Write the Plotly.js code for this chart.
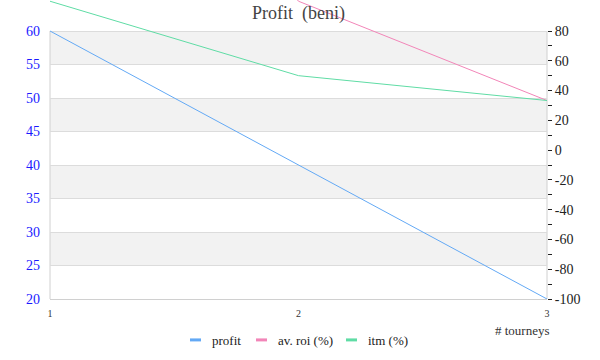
<!DOCTYPE html>
<html>
<head>
<meta charset="utf-8">
<script src="https://cdn.plot.ly/plotly-3.0.1.min.js"></script>
<style>html,body{margin:0;padding:0;background:#fff;}#chart{width:600px;height:360px;}</style>
</head>
<body>
<div id="chart"></div>
<script>
var tourneys = [1, 2, 3];
var profit = [60, 40, 20];
var avRoi = [300, 100, 33.3];
var itm = [100, 50, 33.3];
var leftTicks = [20, 25, 30, 35, 40, 45, 50, 55, 60];
var rightTicks = [-100, -80, -60, -40, -20, 0, 20, 40, 60, 80];
var rightTickText = ['-100', '-80', '-60', '-40', '-20', '0', '20', '40', '60', '80'];
var rightMinor = [-90, -70, -50, -30, -10, 10, 30, 50, 70];
var bandRanges = [[55, 60], [45, 50], [35, 40], [25, 30]];

var serif = "'Liberation Serif', 'DejaVu Serif', serif";

var traces = [
  {x: tourneys, y: profit, name: 'profit', type: 'scatter', mode: 'lines', yaxis: 'y',
   legend: 'legend', showlegend: true, line: {color: '#63a9f5', width: 1}},
  {x: tourneys, y: avRoi, name: 'av. roi (%)', type: 'scatter', mode: 'lines', yaxis: 'y2',
   legend: 'legend2', showlegend: true, line: {color: '#f285b8', width: 1}},
  {x: tourneys, y: itm, name: 'itm (%)', type: 'scatter', mode: 'lines', yaxis: 'y2',
   legend: 'legend3', showlegend: true, line: {color: '#5fdca5', width: 1}}
];

var shapes = bandRanges.map(function (b) {
  return {type: 'rect', xref: 'paper', yref: 'y', x0: 0, x1: 1, y0: b[0], y1: b[1],
          fillcolor: '#f2f2f2', line: {width: 0}, layer: 'below'};
});
shapes.push({type: 'line', xref: 'paper', yref: 'y', x0: 0, x1: 0, y0: 20, y1: 60,
             line: {color: '#d0d0d0', width: 1}, layer: 'below'});
shapes.push({type: 'line', xref: 'paper', yref: 'y', x0: 1, x1: 1, y0: 20, y1: 60,
             line: {color: '#d0d0d0', width: 1}, layer: 'below'});

function legendAt(xpx) {
  return {orientation: 'h', x: (xpx - 50) / 497, xanchor: 'left', y: -0.137, yanchor: 'middle',
          font: {family: serif, size: 13, color: '#222'}, bgcolor: 'rgba(0,0,0,0)', borderwidth: 0,
          visible: true};
}

var layout = {
  width: 600, height: 360,
  showlegend: true,
  margin: {l: 50, r: 53, t: 0, b: 61},
  paper_bgcolor: '#ffffff', plot_bgcolor: 'rgba(0,0,0,0)',
  font: {family: serif, color: '#222'},
  title: {text: 'Profit  (beni)', font: {family: serif, size: 18, color: '#444'},
          x: 0.5, xanchor: 'center', y: 0.965, yanchor: 'middle', xref: 'paper'},
  xaxis: {range: [1, 3], tickvals: tourneys, ticktext: tourneys.map(String),
          showgrid: false, zeroline: false, showline: true, linecolor: '#d0d0d0',
          ticks: '', ticklabelstandoff: 5, tickfont: {family: serif, size: 10, color: '#333'}},
  yaxis: {range: [20, 20 + 40 * 299 / 268], tickvals: leftTicks, showgrid: true,
          gridcolor: '#dcdcdc', zeroline: false, showline: false, ticks: '',
          ticklabelstandoff: 9,
          tickfont: {family: serif, size: 14, color: '#1a1aff'}},
  yaxis2: {range: [-100, -100 + 180 * 299 / 268], overlaying: 'y', side: 'right',
           tickvals: rightTicks, ticktext: rightTickText, showgrid: false, zeroline: false, showline: false,
           ticks: 'outside', ticklen: 4, tickcolor: '#222',
           minor: {tickmode: 'array', tickvals: rightMinor, ticks: 'outside', ticklen: 4, tickcolor: '#222', showgrid: false},
           tickfont: {family: serif, size: 14, color: '#222'}},
  legend: legendAt(172),
  legend2: legendAt(238),
  legend3: legendAt(328),
  shapes: shapes,
  annotations: [{text: '# tourneys', xref: 'paper', yref: 'paper', x: 1.01, xanchor: 'right',
                 y: -0.107, yanchor: 'middle', showarrow: false,
                 font: {family: serif, size: 13, color: '#333'}}]
};

Plotly.newPlot('chart', traces, layout, {displayModeBar: false, responsive: false}).then(function (gd) {
  gd.querySelectorAll('.legendlines path').forEach(function (p) {
    p.setAttribute('d', 'M18,0h11');
    p.style.strokeWidth = '3px';
  });
});
</script>
</body>
</html>
